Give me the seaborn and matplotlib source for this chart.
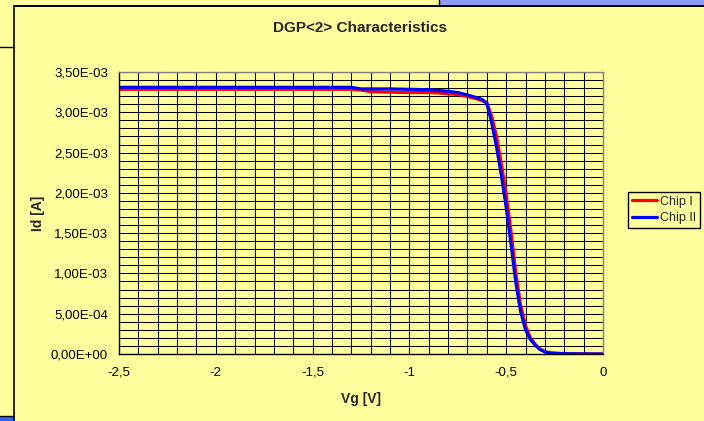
import numpy as np
import pandas as pd
import matplotlib
matplotlib.use("Agg")
import matplotlib.pyplot as plt
from matplotlib.ticker import MultipleLocator, FuncFormatter
from matplotlib.patches import Rectangle
from matplotlib.lines import Line2D
import seaborn as sns

# Gate voltage sweep [V]
vg = [-2.50, -2.30, -2.10, -1.90, -1.70, -1.50, -1.30, -1.25, -1.20, -1.10,
      -1.00, -0.90, -0.85, -0.80, -0.75, -0.70, -0.65, -0.625, -0.60, -0.575,
      -0.55, -0.525, -0.50, -0.475, -0.45, -0.425, -0.40, -0.375, -0.35, -0.325,
      -0.30, -0.275, -0.25, -0.20, -0.15, -0.10, -0.05, 0.00]

# Drain current [A]
id_chip1 = [3.285e-3, 3.285e-3, 3.285e-3, 3.285e-3, 3.285e-3, 3.285e-3, 3.285e-3, 3.275e-3, 3.255e-3, 3.250e-3,
            3.245e-3, 3.245e-3, 3.240e-3, 3.230e-3, 3.220e-3, 3.195e-3, 3.165e-3, 3.145e-3, 3.120e-3, 2.950e-3,
            2.700e-3, 2.360e-3, 1.980e-3, 1.520e-3, 1.000e-3, 0.600e-3, 0.350e-3, 0.200e-3, 0.120e-3, 0.060e-3,
            0.030e-3, 0.015e-3, 0.010e-3, 0.005e-3, 0.002e-3, 0.001e-3, 0.0005e-3, 0.0]
id_chip2 = [3.310e-3, 3.310e-3, 3.310e-3, 3.310e-3, 3.310e-3, 3.310e-3, 3.310e-3, 3.290e-3, 3.290e-3, 3.290e-3,
            3.285e-3, 3.280e-3, 3.270e-3, 3.260e-3, 3.245e-3, 3.215e-3, 3.180e-3, 3.160e-3, 3.110e-3, 2.870e-3,
            2.570e-3, 2.220e-3, 1.820e-3, 1.360e-3, 0.880e-3, 0.520e-3, 0.300e-3, 0.180e-3, 0.110e-3, 0.055e-3,
            0.028e-3, 0.012e-3, 0.008e-3, 0.004e-3, 0.002e-3, 0.001e-3, 0.0005e-3, 0.0]

series_names = ["Chip I", "Chip II"]
series_colors = ["#FF0000", "#0000FF"]

title = "DGP<2> Characteristics"
x_label = "Vg [V]"
y_label = "Id [A]"

YELLOW = "#FFFF9E"

sns.set_style("white")
plt.rcParams["font.family"] = ["Liberation Sans", "DejaVu Sans"]

df = pd.DataFrame({
    "Vg": vg * 2,
    "Id": id_chip1 + id_chip2,
    "chip": [series_names[0]] * len(vg) + [series_names[1]] * len(vg),
})

W, H = 704, 421
fig = plt.figure(figsize=(W / 100, H / 100), dpi=100, facecolor=YELLOW)
ax = fig.add_axes([119 / W, 1 - 354 / H, 484 / W, 282 / H])
ax.set_facecolor(YELLOW)

sns.lineplot(data=df, x="Vg", y="Id", hue="chip", hue_order=series_names,
             palette=dict(zip(series_names, series_colors)), linewidth=2.3,
             ax=ax, zorder=3, legend=True)

ax.set_xlim(-2.5, 0)
ax.set_ylim(0, 3.5e-3)
ax.xaxis.set_major_locator(MultipleLocator(0.5))
ax.xaxis.set_minor_locator(MultipleLocator(0.1))
ax.yaxis.set_major_locator(MultipleLocator(5e-4))
ax.yaxis.set_minor_locator(MultipleLocator(1e-4))

ax.xaxis.set_major_formatter(FuncFormatter(lambda v, p: f"{v:g}".replace(".", ",")))
ax.yaxis.set_major_formatter(FuncFormatter(lambda v, p: f"{v:.2E}".replace(".", ",")))

ax.grid(True, which="both", color="black", linewidth=0.75, zorder=1)
ax.set_axisbelow(True)

ax.tick_params(axis="both", which="major", direction="out", length=3.5, width=1,
               color="black", labelsize=9.5, labelcolor="black")
ax.tick_params(axis="x", which="major", pad=5.5)
ax.tick_params(axis="y", which="major", pad=4.5)
ax.tick_params(axis="both", which="minor", length=0)

for side in ("left", "bottom"):
    ax.spines[side].set_color("black")
    ax.spines[side].set_linewidth(1.0)
for side in ("top", "right"):
    ax.spines[side].set_color("#808080")
    ax.spines[side].set_linewidth(1.0)
for sp in ax.spines.values():
    sp.set_zorder(4)

ax.set_xlabel(x_label, fontsize=10, fontweight="bold")
ax.set_ylabel(y_label, fontsize=10, fontweight="bold")
ax.xaxis.label.set_va("center")
ax.yaxis.label.set_va("center")
ax.xaxis.set_label_coords(0.5, (354 - 399) / 282)
ax.yaxis.set_label_coords((38 - 119) / 484, 0.5)

fig.text(360 / W, 1 - 28 / H, title, ha="center", va="center",
         fontsize=11, fontweight="bold")

handles, labels = ax.get_legend_handles_labels()
ax.get_legend().remove()
leg = fig.legend(handles, labels, loc="upper left",
                 bbox_to_anchor=(628 / W, 1 - 192 / H), bbox_transform=fig.transFigure,
                 borderaxespad=0, fontsize=9, frameon=True, fancybox=False,
                 framealpha=1, facecolor=YELLOW, edgecolor="black",
                 handlelength=2.0, handletextpad=0.25, borderpad=0.3,
                 labelspacing=0.35)
leg.get_frame().set_linewidth(1.0)
for line in leg.get_lines():
    line.set_linewidth(2.3)

# Surrounding worksheet: neighbouring chart edges and window strips
def fx(px):
    return px / W

def fy(py):
    return 1 - py / H

fig.add_artist(Rectangle((fx(439), fy(4.5)), fx(W - 439), 4.5 / H,
                         transform=fig.transFigure, color="#8C9BEF", lw=0, zorder=5))
fig.add_artist(Rectangle((0, 0), fx(13.5), 4.5 / H,
                         transform=fig.transFigure, color="#3366EE", lw=0, zorder=5))
edge = dict(transform=fig.transFigure, color="black", zorder=6)
fig.add_artist(Line2D([fx(13.5), 1], [fy(5.5), fy(5.5)], lw=1.4, **edge))
fig.add_artist(Line2D([fx(13.5), fx(13.5)], [0, fy(5.5)], lw=1.2, **edge))
fig.add_artist(Line2D([fx(439), fx(439)], [1, fy(5.5)], lw=1.0, **edge))
fig.add_artist(Line2D([0, fx(13.5)], [fy(47.3), fy(47.3)], lw=1.0, **edge))
fig.add_artist(Line2D([0, fx(13.5)], [fy(416), fy(416)], lw=1.0, **edge))

fig.savefig("out.png", dpi=100, facecolor=YELLOW)
